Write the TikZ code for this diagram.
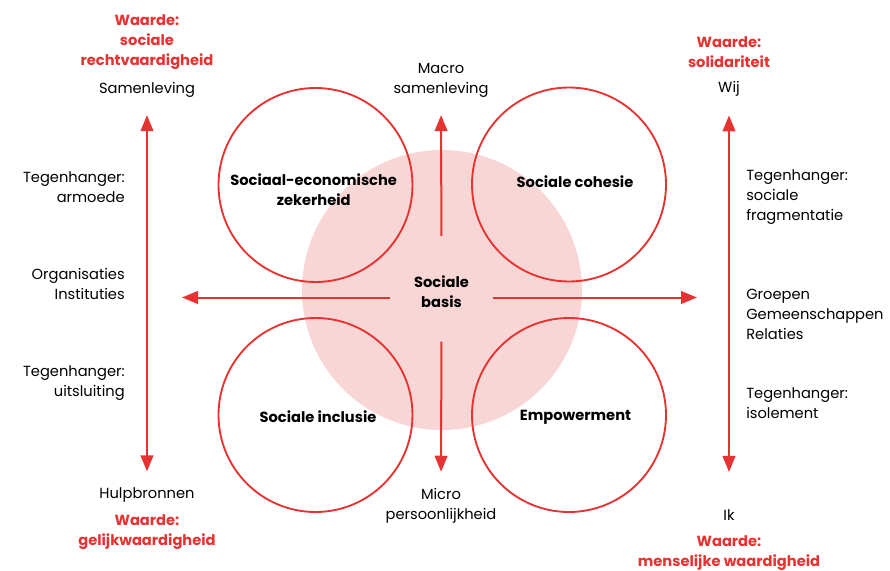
\documentclass[tikz,border=0pt]{standalone}
\usepackage{fontspec}
\setmainfont{Poppins}
\usetikzlibrary{arrows.meta}

\definecolor{rood}{RGB}{230,50,48}
\definecolor{roze}{RGB}{249,214,214}

\tikzset{
  txt/.style={font=\fontsize{11}{15}\selectfont, inner sep=0pt, align=center},
  waarde/.style={txt, text=rood, font=\fontsize{11}{15}\selectfont\bfseries},
  kop/.style={txt, font=\fontsize{11}{15}\selectfont\bfseries},
  ring/.style={circle, draw=rood, line width=1.4pt, minimum size=145.5pt, inner sep=0pt},
  pijl/.style={-{Triangle[width=9.5pt,length=12pt]}, draw=rood, line width=1.5pt},
  dubbel/.style={{Triangle[width=9.5pt,length=12pt]}-{Triangle[width=9.5pt,length=12pt]}, draw=rood, line width=1.5pt}
}

\begin{document}
\begin{tikzpicture}[x=0.75pt, y=-0.75pt]
  \useasboundingbox (0,0) rectangle (890,571);

  % roze achtergrond en de vier cirkels
  \node[circle, fill=roze, minimum size=210pt, inner sep=0pt] (vlak) at (442,290) {};
  \node[ring] (sez) at (315.5,185) {};
  \node[ring] (coh) at (569,184.5) {};
  \node[ring] (incl) at (315.5,415) {};
  \node[ring] (emp) at (569,415) {};

  \node[kop] at (313.7,190) {Sociaal-economische\\zekerheid};
  \node[kop] at (575,182) {Sociale cohesie};
  \node[kop] at (318,417) {Sociale inclusie};
  \node[kop] at (575.5,417) {Empowerment};
  \node[kop] (basis) at (441.5,292) {Sociale\\basis};

  % linker kolom
  \node[waarde] (wrecht) at (147,42) {Waarde:\\sociale\\rechtvaardigheid};
  \node[txt] (samen) at (147,90) {Samenleving};
  \node[txt, anchor=east, align=right] (armoede) at (125,187) {Tegenhanger:\\armoede};
  \node[txt, anchor=east, align=right] (org) at (125,283.5) {Organisaties\\Instituties};
  \node[txt, anchor=east, align=right] (uitsl) at (125,383) {Tegenhanger:\\uitsluiting};
  \node[txt] (hulp) at (147,495) {Hulpbronnen};
  \node[waarde] (wgelijk) at (147,532) {Waarde:\\gelijkwaardigheid};

  % midden
  \node[txt] (macro) at (441,80.5) {Macro\\samenleving};
  \node[txt] (micro) at (441,505.5) {Micro\\persoonlijkheid};

  % rechter kolom
  \node[waarde] (wsolid) at (729,52) {Waarde:\\solidariteit};
  \node[txt] (wij) at (729,89) {Wij};
  \node[txt, anchor=west, align=left] (frag) at (746,196.7) {Tegenhanger:\\sociale\\fragmentatie};
  \node[txt, anchor=west, align=left] (groep) at (746,314) {Groepen\\Gemeenschappen\\Relaties};
  \node[txt, anchor=west, align=left] (isol) at (746,403) {Tegenhanger:\\isolement};
  \node[txt] (ik) at (729,515) {Ik};
  \node[waarde] (wmens) at (729,553) {Waarde:\\menselijke waardigheid};

  \coordinate (links) at (182,297.5);
  \coordinate (rechts) at (697,297.5);

  % pijlen
  \draw[pijl, shorten <=30pt, shorten >=13pt] (basis) -- (macro);
  \draw[pijl, shorten <=25pt, shorten >=12pt] (basis) -- (micro);
  \draw[pijl, shorten <=38.6pt] (basis |- links) -- (links);
  \draw[pijl, shorten <=38.6pt] (basis |- rechts) -- (rechts);
  \draw[dubbel, shorten <=13pt, shorten >=12pt] (samen) -- (hulp);
  \draw[dubbel, shorten <=14pt, shorten >=28pt] (wij) -- (ik);
\end{tikzpicture}
\end{document}
